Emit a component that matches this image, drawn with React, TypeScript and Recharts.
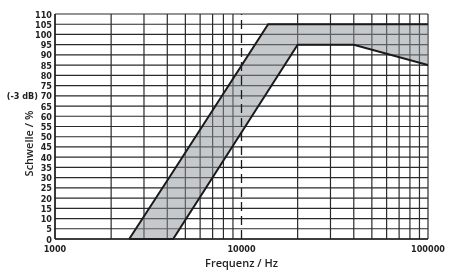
import { ComposedChart, Area, XAxis, YAxis, CartesianGrid, ReferenceLine, Label } from 'recharts';

// frequency breakpoints of the threshold band (Hz)
const freqs = [2500, 4300, 13900, 20000, 40000, 100000];
const lowerBound = [0, 0, 72.5, 95, 95, 85];
const upperBound = [0, 33, 105, 105, 105, 105];

const xLabels = [1000, 10000, 100000];
// vertical grid lines (10000 is drawn dashed separately)
const gridTicks = [1000, 2000, 3000, 4000, 5000, 6000, 7000, 8000, 9000, 20000, 30000, 40000, 50000, 60000, 70000, 80000, 90000, 100000];
const yTicks = [0, 5, 10, 15, 20, 25, 30, 35, 40, 45, 50, 55, 60, 65, 70, 75, 80, 85, 90, 95, 100, 105, 110];
const dbMarkValue = 70;

const data = freqs.map((f, i) => ({ f, band: [lowerBound[i], upperBound[i]] }));

const numFont = '"DejaVu Sans Condensed", "Liberation Sans Narrow", sans-serif';
const labelFont = '"Open Sans", "Liberation Sans", sans-serif';

const YTick = (props: any) => {
  const { x, y, payload } = props;
  const v = payload.value;
  return (
    <text x={x} y={y} dy={3.5} textAnchor="end" fontFamily={numFont} fontSize={9} fontWeight={700} fill="#222">
      {v === dbMarkValue ? `(-3 dB) ${v}` : v}
    </text>
  );
};

const XTick = (props: any) => {
  const { x, y, payload } = props;
  return (
    <text x={x} y={y} dy={11} textAnchor="middle" fontFamily={numFont} fontSize={9} fontWeight={700} fill="#222">
      {payload.value}
    </text>
  );
};

const YTitle = (props: any) => {
  const { viewBox } = props;
  const cx = 28;
  const cy = viewBox.y + viewBox.height / 2 + 17;
  return (
    <text x={cx} y={cy} transform={`rotate(-90 ${cx} ${cy})`} textAnchor="middle" dominantBaseline="central"
      fontFamily={labelFont} fontSize={11} fontWeight={600} fill="#222">
      Schwelle / %
    </text>
  );
};

export default function App() {
  return (
    <div style={{ position: 'fixed', left: 0, top: 0 }}>
      <ComposedChart width={449} height={271} data={data} margin={{ top: 14, right: 21, left: 0, bottom: 0 }}>
        <CartesianGrid stroke="#2a2a2a" strokeWidth={1.2} xAxisId="grid" />
        <XAxis
          xAxisId="grid"
          dataKey="f"
          type="number"
          scale="log"
          domain={[1000, 100000]}
          ticks={gridTicks}
          interval={0}
          allowDataOverflow
          hide
          height={32}
        />
        <XAxis
          dataKey="f"
          type="number"
          scale="log"
          domain={[1000, 100000]}
          ticks={xLabels}
          interval={0}
          allowDataOverflow
          tickLine={false}
          tickSize={0}
          axisLine={{ stroke: '#222', strokeWidth: 1.5 }}
          tick={<XTick />}
          height={32}
        >
          <Label value="Frequenz / Hz" position="insideBottom" offset={0} dy={-4}
            style={{ fontFamily: labelFont, fontSize: 11, fontWeight: 600, fill: '#222' }} />
        </XAxis>
        <YAxis
          type="number"
          domain={[0, 110]}
          ticks={yTicks}
          interval={0}
          tickLine={false}
          tickSize={0}
          tickMargin={3}
          axisLine={{ stroke: '#222', strokeWidth: 1.5 }}
          tick={<YTick />}
          width={55}
        >
          <Label content={<YTitle />} />
        </YAxis>
        <Area
          type="linear"
          dataKey="band"
          stroke="#1a1a1a"
          strokeWidth={2}
          fill="#8d9498"
          fillOpacity={0.5}
          isAnimationActive={false}
          dot={false}
          activeDot={false}
        />
        <ReferenceLine x={10000} stroke="#1a1a1a" strokeWidth={1.3} strokeDasharray="9 5" />
      </ComposedChart>
    </div>
  );
}
